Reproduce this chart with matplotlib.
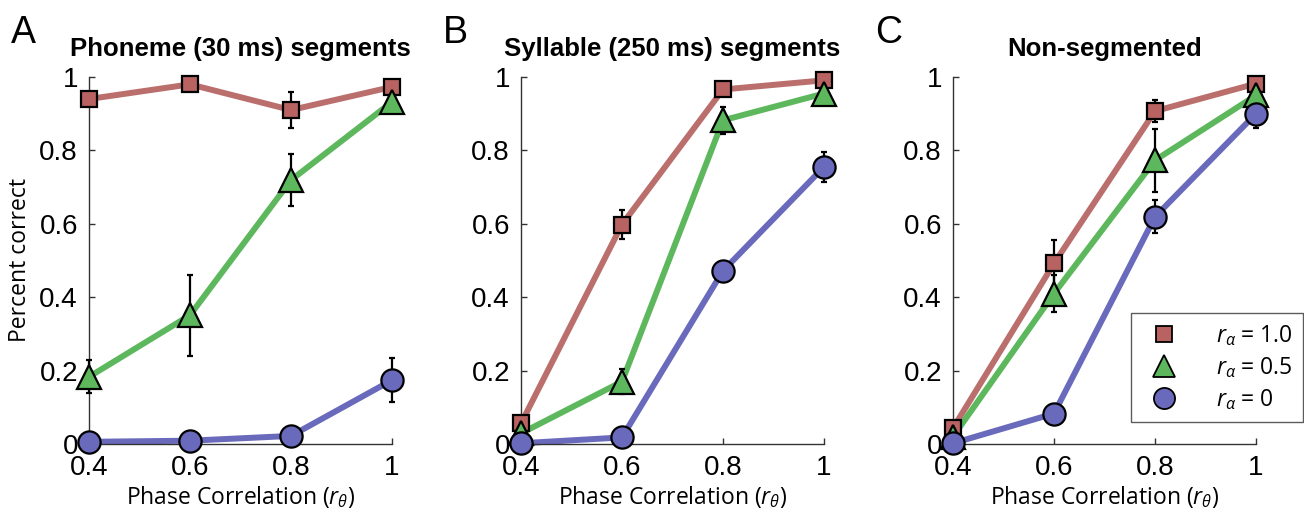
import matplotlib
matplotlib.use("Agg")
import matplotlib.pyplot as plt
from matplotlib.lines import Line2D

plt.rcParams["mathtext.fontset"] = "custom"
plt.rcParams["mathtext.it"] = "Open Sans:italic"
plt.rcParams["mathtext.rm"] = "Open Sans"

# phase correlation levels (x axis)
phase_corr = [0.4, 0.6, 0.8, 1.0]

titles = ["Phoneme (30 ms) segments", "Syllable (250 ms) segments", "Non-segmented"]
panel_letters = ["A", "B", "C"]

# percent correct, one list per panel, for r_alpha = 1.0 / 0.5 / 0
ra10 = [[0.94, 0.98, 0.91, 0.973],
        [0.056, 0.598, 0.966, 0.991],
        [0.043, 0.492, 0.907, 0.982]]
ra10_err = [[0.0, 0.0, 0.048, 0.0],
            [0.0, 0.04, 0.0, 0.0],
            [0.0, 0.065, 0.03, 0.0]]

ra05 = [[0.183, 0.351, 0.719, 0.932],
        [0.029, 0.17, 0.882, 0.955],
        [0.02, 0.41, 0.773, 0.95]]
ra05_err = [[0.045, 0.11, 0.07, 0.0],
            [0.0, 0.035, 0.037, 0.0],
            [0.0, 0.05, 0.086, 0.0]]

ra00 = [[0.006, 0.009, 0.022, 0.174],
        [0.002, 0.018, 0.472, 0.755],
        [0.002, 0.083, 0.619, 0.90]]
ra00_err = [[0.0, 0.0, 0.0, 0.06],
            [0.0, 0.0, 0.0, 0.04],
            [0.0, 0.0, 0.045, 0.04]]

series = [
    (ra10, ra10_err, "#bb6f6d", "#b86262", "s", 11.5, r"$r_{\alpha}$ = 1.0"),
    (ra05, ra05_err, "#5db85d", "#5db85d", "^", 17, r"$r_{\alpha}$ = 0.5"),
    (ra00, ra00_err, "#6a6abd", "#6a6abd", "o", 16, r"$r_{\alpha}$ = 0"),
]

fig = plt.figure(figsize=(13.04, 5.14), dpi=100)
lefts = [89, 521, 953]
W, H = 1304.0, 514.0

for i in range(3):
    ax = fig.add_axes([lefts[i] / W, 1 - 444 / H, 303 / W, 367 / H])
    # lines first, then markers on top
    for vals, errs, lc, fc, mk, ms, lab in series:
        ax.plot(phase_corr, vals[i], color=lc, lw=4.3, solid_capstyle="butt",
                clip_on=False, zorder=2)
    for vals, errs, lc, fc, mk, ms, lab in series:
        ax.errorbar(phase_corr, vals[i], yerr=errs[i], fmt="none", ecolor="black",
                    elinewidth=1.6, capsize=2.5, capthick=1.6, clip_on=False, zorder=3)
        ax.plot(phase_corr, vals[i], ls="none", marker=mk, ms=ms, mfc=fc, mec="black",
                mew=1.6, clip_on=False, zorder=4)

    ax.set_xlim(0.4, 1.0)
    ax.set_ylim(0, 1)
    ax.set_xticks(phase_corr)
    ax.set_xticklabels(["0.4", "0.6", "0.8", "1"])
    ax.set_yticks([0, 0.2, 0.4, 0.6, 0.8, 1.0])
    ax.set_yticklabels(["0", "0.2", "0.4", "0.6", "0.8", "1"])
    for s in ["top", "right"]:
        ax.spines[s].set_visible(False)
    for s in ["left", "bottom"]:
        ax.spines[s].set_color("#333333")
        ax.spines[s].set_linewidth(1.0)
    ax.tick_params(direction="in", length=4, width=1, color="#333333",
                   labelsize=20, pad=8)
    for t in ax.get_xticklabels() + ax.get_yticklabels():
        t.set_family("Liberation Sans")
    ax.set_title(titles[i], fontsize=18.5, fontweight="bold", family="Liberation Sans", pad=15)
    ax.set_xlabel(r"Phase Correlation ($r_{\theta}$)", fontsize=16.5, family="Open Sans",
                  labelpad=2)
    if i == 0:
        ax.set_ylabel("Percent correct", fontsize=16.5, family="Open Sans", labelpad=5)
    fig.text((lefts[i] - 78) / W, 1 - 43 / H, panel_letters[i], fontsize=27,
             family="Liberation Sans", va="baseline", ha="left")

    if i == 2:
        handles = [Line2D([], [], ls="none", marker=mk, ms=ms * 0.95, mfc=fc, mec="black",
                          mew=1.3, label=lab)
                   for vals, errs, lc, fc, mk, ms, lab in series]
        leg = ax.legend(handles=handles, loc="upper left",
                        bbox_to_anchor=(1131 / W, 1 - 313 / H), bbox_transform=fig.transFigure,
                        prop={"family": "Open Sans", "size": 16.5}, frameon=True, fancybox=False,
                        edgecolor="#333333", borderpad=0.45, labelspacing=0.3,
                        handletextpad=1.25, borderaxespad=0)
        leg.get_frame().set_linewidth(1.0)

plt.savefig("out.png", dpi=100)
